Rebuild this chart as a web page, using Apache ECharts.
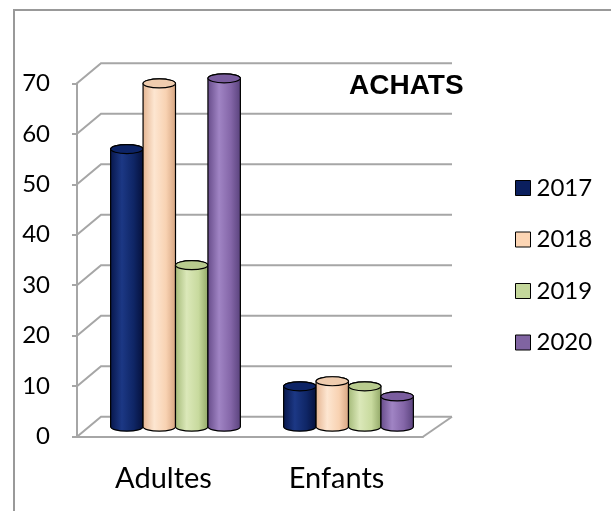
<!DOCTYPE html>
<html>
<head>
<meta charset="utf-8">
<script src="https://cdn.jsdelivr.net/npm/echarts@6/dist/echarts.min.js"></script>
<style>
html,body{margin:0;padding:0;background:#fff;}
#chart{width:611px;height:511px;}
</style>
</head>
<body>
<div id="chart"></div>
<script>
// ---- data ----
const categories = ['Adultes', 'Enfants'];
const years = ['2017', '2018', '2019', '2020'];
const v2017 = [55, 8];
const v2018 = [68, 9];
const v2019 = [32, 8];
const v2020 = [69, 6];
const yTicks = [0, 10, 20, 30, 40, 50, 60, 70];
const chartTitle = 'ACHATS';

const seriesValues = [v2017, v2018, v2019, v2020];
const baseColors = ['#0b1f5e', '#fcd5b4', '#c4d79b', '#8064a2'];
const bodyStops = [
  ['#07164a', '#1c3885', '#0f2666', '#05103a'],
  ['#e4b38f', '#fde6d1', '#f8d2b2', '#d5a37f'],
  ['#a3b977', '#dbe8b9', '#c8da9e', '#90a665'],
  ['#654a88', '#a084c4', '#8466a8', '#58417b']
];
const topColors = ['#0d2466', '#efccae', '#b8cb8e', '#7a5d9e'];

const DX = 24, DY = -20;        // back wall offset
const MDX = 12, MDY = -10;      // mid depth offset
const RY = 4.5;
const GRID_COLOR = '#a6a6a6';
const FONT = 'Lato';

const chart = echarts.init(document.getElementById('chart'), null, {renderer: 'canvas'});

function cylinderRender(k) {
  return function (params, api) {
    const cat = api.value(0);
    const val = api.value(1);
    const pTop = api.coord([cat, val]);
    const pBot = api.coord([cat, 0]);
    const band = api.size([1, 0])[0];
    const groupW = band * 0.75;
    const w = groupW / 4;
    const cx = pTop[0] + MDX + (k - 1.5) * w;
    const xL = cx - w / 2, xR = cx + w / 2;
    const yT = pTop[1] + MDY, yB = pBot[1] + MDY;
    const rx = w / 2;
    const st = bodyStops[k];
    const grad = {
      type: 'linear', x: 0, y: 0, x2: 1, y2: 0,
      colorStops: [
        {offset: 0, color: st[0]},
        {offset: 0.35, color: st[1]},
        {offset: 0.7, color: st[2]},
        {offset: 1, color: st[3]}
      ]
    };
    const body = 'M' + xL + ' ' + yT + ' L' + xL + ' ' + yB +
      ' A' + rx + ' ' + RY + ' 0 0 0 ' + xR + ' ' + yB +
      ' L' + xR + ' ' + yT +
      ' A' + rx + ' ' + RY + ' 0 0 0 ' + xL + ' ' + yT + ' Z';
    const top = 'M' + xL + ' ' + yT +
      ' A' + rx + ' ' + RY + ' 0 1 0 ' + xR + ' ' + yT +
      ' A' + rx + ' ' + RY + ' 0 1 0 ' + xL + ' ' + yT + ' Z';
    return {
      type: 'group',
      children: [
        {type: 'path', shape: {pathData: body}, style: {fill: grad, stroke: '#000', lineWidth: 1.2}},
        {type: 'path', shape: {pathData: top}, style: {fill: topColors[k], stroke: '#000', lineWidth: 1.2}}
      ]
    };
  };
}

function wallRender(params, api) {
  const v = api.value(0);
  const p = api.coord([0, v]);
  const cs = params.coordSys;
  const x0 = cs.x, x1 = cs.x + cs.width;
  const y = p[1];
  const children = [{
    type: 'polyline',
    shape: {points: [[x0, y], [x0 + DX, y + DY], [x1 + DX + 5, y + DY]]},
    style: {stroke: GRID_COLOR, lineWidth: 2, fill: null}
  }];
  if (v === 0) {
    children.push({
      type: 'line',
      shape: {x1: x1, y1: y, x2: x1 + DX + 5, y2: y + DY},
      style: {stroke: GRID_COLOR, lineWidth: 2}
    });
  }
  return {type: 'group', children: children};
}

const series = [{
  type: 'custom',
  name: 'wall',
  renderItem: wallRender,
  data: yTicks.map(v => [v]),
  encode: {y: 0},
  silent: true,
  z: 1
}];
years.forEach((yr, k) => {
  series.push({
    type: 'custom',
    name: yr,
    renderItem: cylinderRender(k),
    data: seriesValues[k].map((v, i) => [i, v]),
    encode: {x: 0, y: 1},
    itemStyle: {color: baseColors[k]},
    z: 3
  });
});

const option = {
  animation: false,
  backgroundColor: '#fff',
  title: {
    text: chartTitle,
    left: 344,
    top: 67,
    textStyle: {fontFamily: 'Liberation Sans', fontWeight: 'bold', fontSize: 28, color: '#000'}
  },
  legend: {
    data: years,
    orient: 'vertical',
    left: 510,
    top: 171,
    itemWidth: 15,
    itemHeight: 15,
    itemGap: 27.5,
    icon: 'rect',
    itemStyle: {borderColor: '#000', borderWidth: 1},
    textStyle: {fontFamily: FONT, fontSize: 24, color: '#000', lineHeight: 24, padding: [0, 0, 0, 1]}
  },
  grid: {left: 77, right: 188, top: 83.3, bottom: 74.3, containLabel: false},
  xAxis: {
    type: 'category',
    data: categories,
    axisLine: {lineStyle: {color: GRID_COLOR, width: 2}},
    axisTick: {length: 10, lineStyle: {color: GRID_COLOR, width: 2}},
    axisLabel: {fontFamily: FONT, fontSize: 29, color: '#000', margin: 27},
    splitLine: {show: false}
  },
  yAxis: {
    type: 'value',
    min: 0,
    max: 70,
    interval: 10,
    axisLine: {show: true, lineStyle: {color: GRID_COLOR, width: 2}},
    axisTick: {show: true, length: 5, lineStyle: {color: GRID_COLOR, width: 2}},
    axisLabel: {fontFamily: FONT, fontSize: 24, color: '#000', margin: 27},
    splitLine: {show: false}
  },
  graphic: [{
    type: 'rect',
    shape: {x: 14, y: 10, width: 700, height: 600},
    style: {fill: null, stroke: '#999', lineWidth: 2},
    silent: true,
    z: 0
  }],
  series: series
};
chart.setOption(option);
</script>
</body>
</html>
